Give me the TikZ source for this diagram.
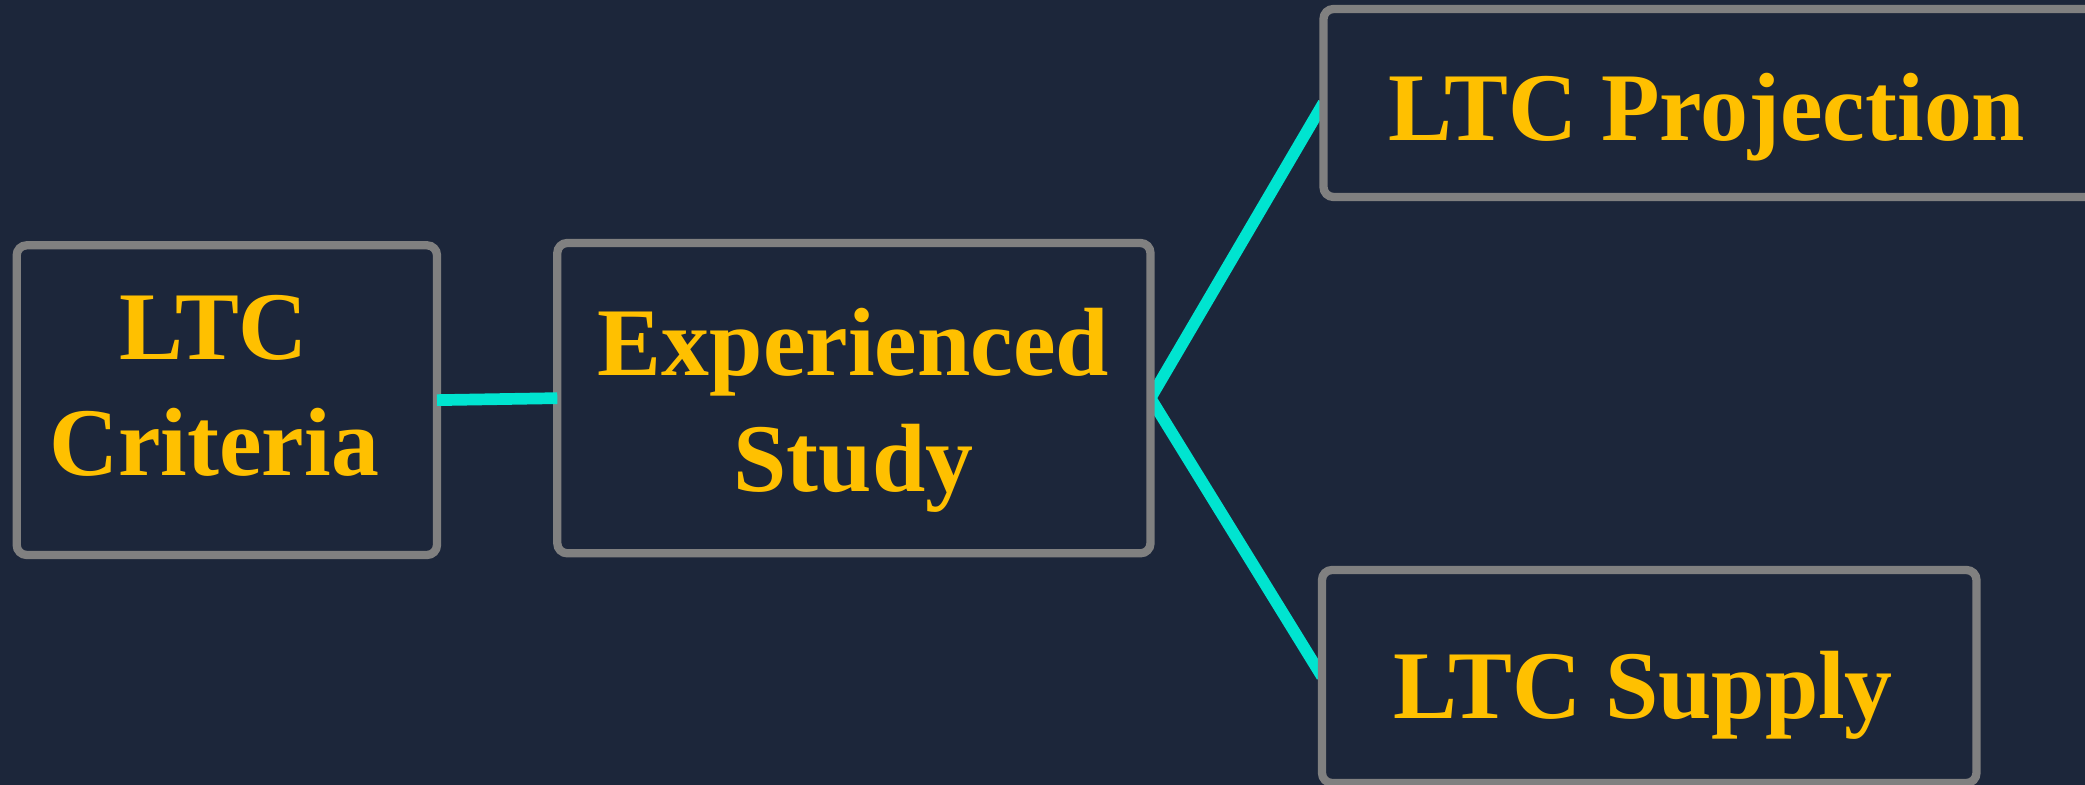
\documentclass[tikz,border=0pt]{standalone}
\usepackage{fontspec}
\setmainfont[FakeStretch=0.988]{Liberation Serif}
\definecolor{bgcol}{RGB}{28,38,58}
\definecolor{boxline}{RGB}{128,128,128}
\definecolor{gold}{RGB}{255,192,0}
\definecolor{cyanline}{RGB}{0,228,208}
\tikzset{
  box/.style={rectangle, draw=boxline, fill=bgcol, line width=4.15pt,
    rounded corners=5pt, inner sep=0pt, outer sep=0pt},
  txt/.style={text=gold, font=\fontsize{48.5}{58}\selectfont\bfseries,
    align=center, inner sep=0pt, outer sep=0pt},
  conn/.style={draw=cyanline, line width=5.85pt}
}
\begin{document}
\begin{tikzpicture}[x=0.5pt,y=-0.5pt]
\useasboundingbox (0,0) rectangle (2085,785);
\fill[bgcol] (0,0) rectangle (2085,785);
\clip (0,0) rectangle (2085,785);
% node placement
\path (226.85,400.15) node[box, minimum width=210.15pt, minimum height=154.85pt, draw=none, fill=none] (crit) {}
      (853.9,398.15) node[box, minimum width=296.6pt, minimum height=155.15pt, draw=none, fill=none] (exp) {}
      (1761.75,103) node[box, minimum width=438.25pt, minimum height=94pt, draw=none, fill=none] (proj) {}
      (1649.25,676.5) node[box, minimum width=327.25pt, minimum height=106.5pt, draw=none, fill=none] (sup) {};
% diagonal connectors (behind the boxes)
\draw[conn] (proj.west) -- (exp.east) -- (sup.west);
% boxes
\node[box, minimum width=210.15pt, minimum height=154.85pt] (critbox) at (crit) {};
\node[box, minimum width=296.6pt, minimum height=155.15pt] (expbox) at (exp) {};
\node[box, minimum width=438.25pt, minimum height=94pt] (projbox) at (proj) {};
\node[box, minimum width=327.25pt, minimum height=106.5pt] (supbox) at (sup) {};
% horizontal connector
\draw[conn] (critbox.east) -- (expbox.west);
% texts
\node[txt, anchor=base] (critT) at (214,476) {LTC\\Criteria};
\node[txt, anchor=base] (expT) at (853.5,491.5) {Experienced\\Study};
\node[txt, anchor=base] (projT) at (1707,141) {LTC Projection};
\node[txt, anchor=base] (supT) at (1643,719) {LTC Supply};
\end{tikzpicture}
\end{document}
